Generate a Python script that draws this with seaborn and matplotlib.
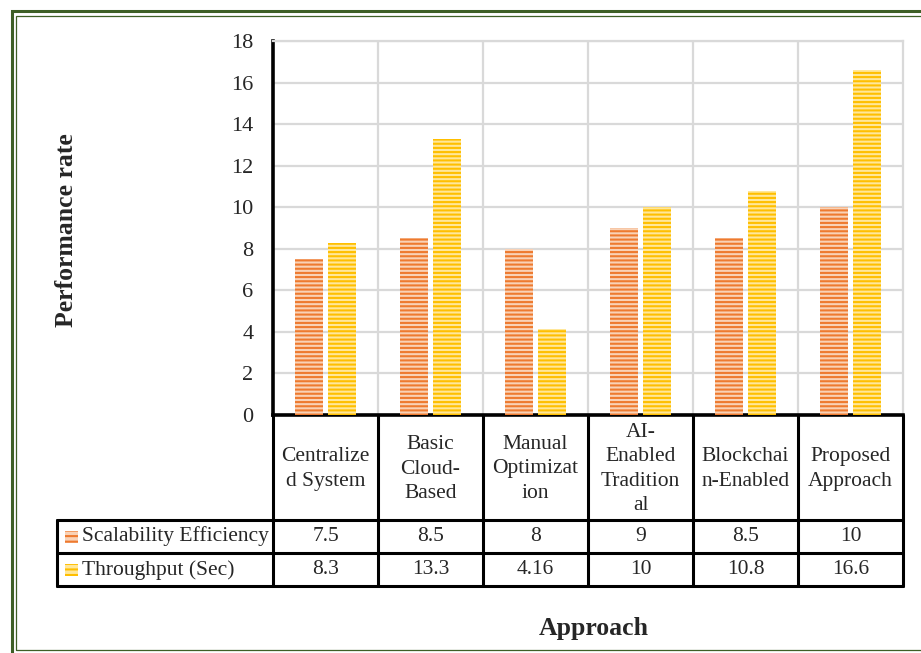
import numpy as np
import pandas as pd
import matplotlib
matplotlib.use("Agg")
import matplotlib.pyplot as plt
import seaborn as sns
from matplotlib.patches import Rectangle
from matplotlib.lines import Line2D
from matplotlib.transforms import blended_transform_factory

# ---- data -------------------------------------------------------------
categories = ["Centralized System", "Basic Cloud-Based", "Manual Optimization",
              "AI-Enabled Traditional", "Blockchain-Enabled", "Proposed Approach"]
category_labels = ["Centralize\nd System", "Basic\nCloud-\nBased", "Manual\nOptimizat\nion",
                   "AI-\nEnabled\nTradition\nal", "Blockchai\nn-Enabled", "Proposed\nApproach"]
series_names = ["Scalability Efficiency", "Throughput (Sec)"]
scalability = [7.5, 8.5, 8, 9, 8.5, 10]
throughput = [8.3, 13.3, 4.16, 10, 10.8, 16.6]
y_ticks = [0, 2, 4, 6, 8, 10, 12, 14, 16, 18]

# ---- helpers (pixel -> figure fraction) -------------------------------
W, H = 921, 653
def fx(px):
    return px / W
def fy(py):
    return 1 - py / H

sns.set_style("white")
plt.rcParams["font.family"] = ["Liberation Serif", "DejaVu Serif"]
plt.rcParams["hatch.linewidth"] = 1.5

fig = plt.figure(figsize=(W / 100, H / 100), dpi=100)
ax = fig.add_axes([fx(273), fy(415), fx(903) - fx(273), fy(41) - fy(415)])

df = pd.DataFrame({
    "Approach": categories * 2,
    "Series": [series_names[0]] * len(categories) + [series_names[1]] * len(categories),
    "Value": scalability + throughput,
})

dark = ["#EE7A2F", "#FFBF00"]
light = ["#F9D2B6", "#FFE79A"]

sns.barplot(data=df, x="Approach", y="Value", hue="Series", order=categories,
            hue_order=series_names, palette=dark, width=0.63, gap=0.18,
            legend=False, ax=ax, zorder=3)

n = len(categories)
for i, patch in enumerate(ax.patches):
    s = i // n
    patch.set_facecolor(light[s])
    patch.set_edgecolor(dark[s])
    patch.set_linewidth(0)
    patch.set_hatch("----")
    if hasattr(patch, "set_hatchcolor"):
        patch.set_hatchcolor(dark[s])

grid_c = "#D9D9D9"
ax.set_xlim(-0.5, n - 0.5)
ax.set_ylim(0, 18)
ax.set_yticks(y_ticks)
ax.set_xticks([])
ax.set_xlabel("")
ax.set_ylabel("")
ax.yaxis.grid(True, color=grid_c, lw=1.6)
ax.set_axisbelow(True)
for b in np.arange(0.5, n - 0.5, 1):
    ax.axvline(b, color=grid_c, lw=1.6, zorder=1)
for side in ("top", "right"):
    ax.spines[side].set_color(grid_c)
    ax.spines[side].set_linewidth(1.6)
for side in ("left", "bottom"):
    ax.spines[side].set_color("black")
    ax.spines[side].set_linewidth(2.6)
ax.tick_params(axis="y", length=0, pad=14, labelsize=16)

# ---- data table under the axis ----------------------------------------
tb = blended_transform_factory(ax.transData, fig.transFigure)
lw_t = 2.2
row_top, row1, row2, row_bot = 415, 520, 553, 586
for i in range(n + 1):
    fig.add_artist(Line2D([i - 0.5, i - 0.5], [fy(row_top), fy(row_bot)],
                          transform=tb, color="black", lw=lw_t))
fig.add_artist(Line2D([fx(57), fx(57)], [fy(row1), fy(row_bot)],
                      transform=fig.transFigure, color="black", lw=lw_t))
for yy in (row1, row2, row_bot):
    fig.add_artist(Line2D([fx(57), fx(903)], [fy(yy), fy(yy)],
                          transform=fig.transFigure, color="black", lw=lw_t))

for i, lab in enumerate(category_labels):
    fig.text(i, fy(469), lab, transform=tb, ha="center", va="center",
             fontsize=15.5, linespacing=1.38)

row_centers = [536.5, 570]
for r, vals in enumerate([scalability, throughput]):
    for i, v in enumerate(vals):
        fig.text(i, fy(row_centers[r]), f"{v:g}", transform=tb,
                 ha="center", va="center", fontsize=15.5)
    key = Rectangle((fx(65), fy(row_centers[r] + 6)), 13 / W, 12 / H,
                    transform=fig.transFigure, facecolor=light[r],
                    edgecolor=dark[r], lw=0, hatch="---")
    if hasattr(key, "set_hatchcolor"):
        key.set_hatchcolor(dark[r])
    fig.add_artist(key)
    fig.text(fx(82), fy(row_centers[r]), series_names[r], ha="left",
             va="center", fontsize=15.5)

# ---- axis titles ------------------------------------------------------
fig.text(fx(66), fy(230), "Performance rate", rotation=90, ha="center",
         va="center", fontsize=18.5, fontweight="bold")
fig.text(fx(594), fy(629), "Approach", ha="center", va="center",
         fontsize=18.5, fontweight="bold")

# ---- double green frame ----------------------------------------------
frame_c = "#3E5F26"
fig.add_artist(Rectangle((fx(11.5), fy(656)), (940 - 11.5) / W, (656 - 11.5) / H,
                         transform=fig.transFigure, fill=False,
                         edgecolor=frame_c, lw=2.2))
fig.add_artist(Rectangle((fx(15.5), fy(650)), (935 - 15.5) / W, (650 - 15.5) / H,
                         transform=fig.transFigure, fill=False,
                         edgecolor=frame_c, lw=0.9))

fig.savefig("out.png", dpi=100)
